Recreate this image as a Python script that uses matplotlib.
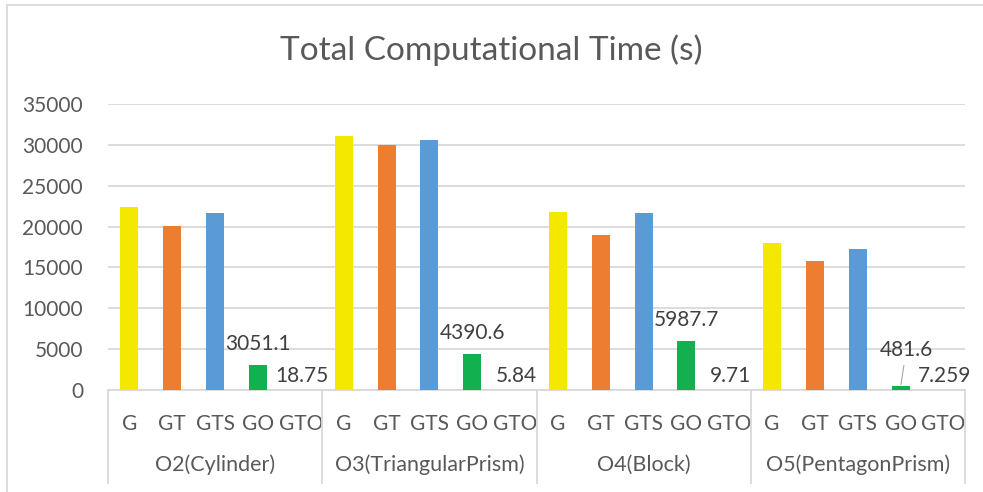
import numpy as np
import matplotlib.pyplot as plt
from matplotlib.transforms import blended_transform_factory

groups = ["O2(Cylinder)", "O3(TriangularPrism)", "O4(Block)", "O5(PentagonPrism)"]
methods = ["G", "GT", "GTS", "GO", "GTO"]

g_vals = [22400, 31100, 21800, 17950]
gt_vals = [20100, 30000, 19000, 15800]
gts_vals = [21600, 30550, 21650, 17200]
go_vals = [3051.1, 4390.6, 5987.7, 481.6]
gto_vals = [18.75, 5.84, 9.71, 7.259]

go_labels = ["3051.1", "4390.6", "5987.7", "481.6"]
gto_labels = ["18.75", "5.84", "9.71", "7.259"]

colors = ["#F5E800", "#ED7D31", "#5B9BD5", "#12B04F", "#7F7F7F"]
text_col = "#595959"

plt.rcParams["font.family"] = ["Lato", "DejaVu Sans"]

fig = plt.figure(figsize=(9.83, 4.92), dpi=100)
ax = fig.add_axes([108 / 983, 1 - 390 / 492, (965 - 108) / 983, (390 - 104) / 492])

series = [g_vals, gt_vals, gts_vals, go_vals, gto_vals]
n = len(methods)
for i, vals in enumerate(series):
    x = np.arange(len(groups)) * n + i
    ax.bar(x, vals, width=0.42, color=colors[i], zorder=3)

# data labels on GO and GTO
for k in range(len(groups)):
    xg = k * n + 3
    if go_vals[k] < 1000:
        ax.annotate(go_labels[k], xy=(xg, go_vals[k]), xytext=(4, 26),
                    textcoords="offset points", ha="center", va="center",
                    fontsize=15, color="#404040",
                    arrowprops=dict(arrowstyle="-", color="#A6A6A6", lw=0.8,
                                    shrinkA=2, shrinkB=1))
    else:
        ax.annotate(go_labels[k], xy=(xg, go_vals[k]), xytext=(0, 15),
                    textcoords="offset points", ha="center", va="center",
                    fontsize=15, color="#404040")
    xt = k * n + 4
    ax.annotate(gto_labels[k], xy=(xt, gto_vals[k]), xytext=(1, 10),
                textcoords="offset points", ha="center", va="center",
                fontsize=15, color="#404040")

ax.set_xlim(-0.5, len(groups) * n - 0.5)
ax.set_ylim(0, 35000)
ax.set_yticks(np.arange(0, 35001, 5000))
ax.yaxis.grid(True, color="#D9D9D9", lw=1.3, zorder=0)
ax.tick_params(axis="y", length=0, pad=18, labelsize=15, labelcolor=text_col)
for s in ["top", "right", "left"]:
    ax.spines[s].set_visible(False)
ax.spines["bottom"].set_color("#D9D9D9")
ax.spines["bottom"].set_linewidth(1.3)

ax.set_xticks(np.arange(len(groups) * n))
ax.set_xticklabels(methods * len(groups))
ax.tick_params(axis="x", length=0, pad=17, labelsize=15, labelcolor=text_col)

trans = blended_transform_factory(ax.transData, ax.transAxes)
for k, g in enumerate(groups):
    ax.text(k * n + 2, -0.26, g, transform=trans, ha="center", va="center",
            fontsize=15.5, color=text_col)
for k in range(len(groups) + 1):
    ax.plot([k * n - 0.5] * 2, [0, -0.325], transform=trans, color="#D9D9D9",
            lw=1.3, clip_on=False)

fig.text(0.5, 1 - 50 / 492, "Total Computational Time (s)", ha="center",
         va="center", fontsize=24, color=text_col)

# chart border (partially visible)
fig.add_artist(plt.Line2D([7 / 983, 7 / 983], [0, 1 - 5 / 492], color="#D9D9D9", lw=1.3))
fig.add_artist(plt.Line2D([7 / 983, 1], [1 - 5 / 492] * 2, color="#D9D9D9", lw=1.3))

fig.savefig("out.png", dpi=100)
